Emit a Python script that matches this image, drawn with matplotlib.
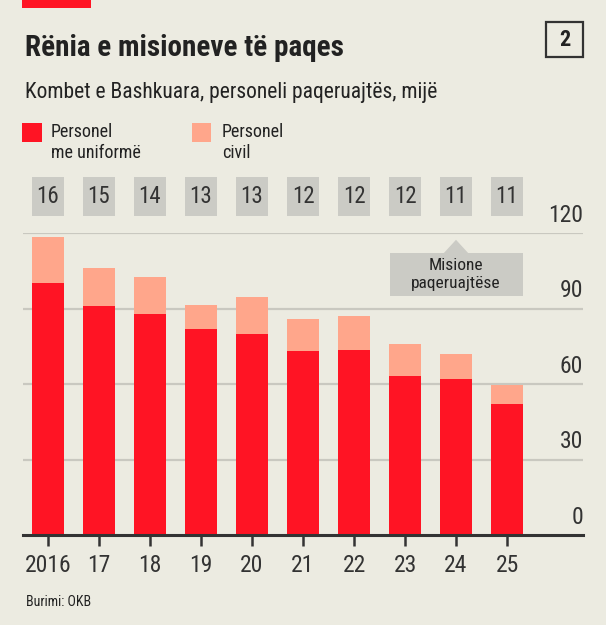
import matplotlib
matplotlib.use("Agg")
import matplotlib.pyplot as plt
from matplotlib import font_manager
from matplotlib.patches import Rectangle, Polygon

# ---- data (mijë) ----
YEARS = ["2016", "17", "18", "19", "20", "21", "22", "23", "24", "25"]
UNIFORMED = [100, 91, 88, 82, 80, 73, 73.5, 63, 62, 52]
CIVIL = [18.5, 15, 14.5, 9.5, 14.5, 13, 13.5, 13, 10, 7.5]
MISSIONS = [16, 15, 14, 13, 13, 12, 12, 12, 11, 11]
YTICKS = [0, 30, 60, 90, 120]

BG = "#ecebe1"; RED = "#ff1424"; PINK = "#ffa68b"; GREYBOX = "#cbcbc5"
INK = "#222222"; GRID = "#c9c8c0"

names = {f.name for f in font_manager.fontManager.ttflist}
FONT = next((f for f in ["Liberation Sans Narrow", "DejaVu Sans Condensed", "Roboto Condensed"]
             if f in names), "Liberation Sans")
plt.rcParams["font.family"] = [FONT, "DejaVu Sans"]

W, H = 606, 625
fig = plt.figure(figsize=(W / 100, H / 100), dpi=100)
fig.patch.set_facecolor(BG)


def fx(px):
    return px / W


def fy(py):
    return 1 - py / H


ax = fig.add_axes([fx(23), fy(535), fx(583) - fx(23), fy(233) - fy(535)])
ax.set_facecolor(BG)
x = list(range(len(YEARS)))
ax.set_xlim(-0.49, 10.49)
ax.set_ylim(0, 120)
for t in YTICKS[1:]:
    ax.axhline(t, color=GRID, lw=1.6, zorder=0)
ax.bar(x, UNIFORMED, width=0.63, color=RED, zorder=2)
ax.bar(x, CIVIL, bottom=UNIFORMED, width=0.63, color=PINK, zorder=2)

for s in ("top", "right", "left"):
    ax.spines[s].set_visible(False)
ax.spines["bottom"].set_color("#333333")
ax.spines["bottom"].set_linewidth(2.2)
ax.spines["bottom"].set_zorder(5)
ax.set_yticks([])
ax.set_xticks(x)
ax.set_xticklabels(YEARS, fontsize=17, color="#333333")
ax.tick_params(axis="x", length=8, width=1.8, color="#333333", pad=6)

# y labels sit above the gridlines, right aligned
for t in YTICKS:
    ax.text(10.49, t + 2.4, str(t), ha="right", va="bottom", fontsize=17, color="#333333")

# mission count boxes above the plot
for i, n in enumerate(MISSIONS):
    ax.add_patch(Rectangle((i - 0.315, 126.7), 0.63, 15.5, color=GREYBOX, clip_on=False, lw=0))
    ax.text(i, 134.4, str(n), ha="center", va="center", fontsize=16.5, color="#333333")

# callout
ax.add_patch(Rectangle((6.71, 95), 9.31 - 6.71, 17, color=GREYBOX, lw=0, zorder=3))
ax.add_patch(Polygon([(7.76, 112), (8.0, 117.3), (8.24, 112)], closed=True, color=GREYBOX, lw=0, zorder=3))
ax.text(8.0, 103.5, "Misione\npaqeruajtëse", ha="center", va="center", fontsize=12.5,
        color=INK, linespacing=1.3, zorder=4)

# header
fig.patches.append(Rectangle((fx(22), fy(8)), fx(91) - fx(22), fy(0) - fy(8),
                             transform=fig.transFigure, color=RED, lw=0))
fig.text(fx(25), fy(56), "Rënia e misioneve të paqes", fontsize=21, fontweight="bold",
         color=INK, va="baseline")
fig.patches.append(Rectangle((fx(546), fy(57)), fx(583) - fx(546), fy(22) - fy(57),
                             transform=fig.transFigure, facecolor="none", edgecolor="#333333", lw=1.6))
fig.text(fx(564.5), fy(39.5), "2", fontsize=16, fontweight="bold", color=INK, ha="center", va="center")
fig.text(fx(25), fy(98), "Kombet e Bashkuara, personeli paqeruajtës, mijë", fontsize=15.5,
         color=INK, va="baseline")

# legend
fig.patches.append(Rectangle((fx(22), fy(142)), fx(42) - fx(22), fy(123) - fy(142),
                             transform=fig.transFigure, color=RED, lw=0))
fig.text(fx(51), fy(137), "Personel", fontsize=13, color=INK, va="baseline")
fig.text(fx(51), fy(158), "me uniformë", fontsize=13, color=INK, va="baseline")
fig.patches.append(Rectangle((fx(192), fy(142)), fx(211) - fx(192), fy(123) - fy(142),
                             transform=fig.transFigure, color=PINK, lw=0))
fig.text(fx(222), fy(137), "Personel", fontsize=13, color=INK, va="baseline")
fig.text(fx(222), fy(158), "civil", fontsize=13, color=INK, va="baseline")

fig.text(fx(26), fy(606), "Burimi: OKB", fontsize=10, color=INK, va="baseline")

fig.savefig("out.png", dpi=100, facecolor=BG)
